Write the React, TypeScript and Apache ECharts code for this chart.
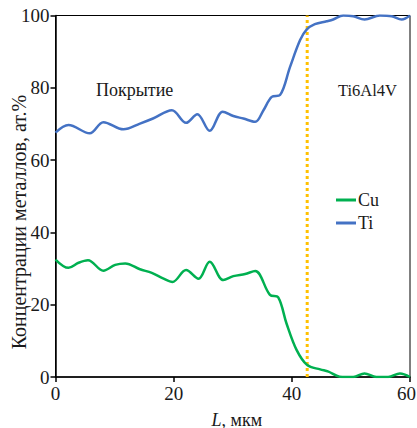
import React, { useEffect, useRef } from "react";
import * as echarts from "echarts";

const cuX = [0, 2.2, 3.9, 5.5, 8.1, 10.1, 11.8, 14.3, 16.3, 18.2, 19.8, 22.1, 24.2, 26.1, 28.4, 30.1, 32.1, 33.8, 36.3, 37.7, 39.1, 40.8, 42.6, 44.8, 46.2, 48.1, 50.4, 52.3, 54.3, 56.3, 58.3, 60];
const cuY = [32.5, 30.2, 31.6, 32.3, 29.4, 31.0, 31.4, 29.8, 28.8, 27.3, 26.3, 29.6, 27.2, 31.9, 26.8, 27.9, 28.5, 29.3, 22.7, 22.0, 14.8, 7.5, 3.3, 2.1, 1.5, 0.1, 0, 1.0, 0, 0, 1.0, 0];

const tiX = [0, 2.2, 5.8, 8.1, 11.5, 14.3, 16.5, 19.7, 22.1, 24.0, 26.1, 28.3, 30.1, 31.8, 33.8, 35.2, 36.6, 38.0, 39.7, 41.4, 42.5, 43.9, 45.9, 47.0, 48.7, 50.4, 52.3, 54.9, 56.9, 58.6, 60];
const tiY = [67.6, 69.7, 67.4, 70.5, 68.5, 70.1, 71.5, 73.8, 70.3, 72.7, 68.1, 73.4, 72.2, 71.5, 70.6, 73.8, 77.5, 78.0, 85.8, 93.2, 96.1, 97.6, 98.4, 98.9, 100, 99.8, 98.9, 100, 99.8, 98.9, 100];

const boundaryX = 42.6;
const xTicks = [0, 20, 40, 60];
const yTicks = [0, 20, 40, 60, 80, 100];

const FONT = "Liberation Serif";
const TXT = "#1a1a1a";

export default function App() {
  const ref = useRef<HTMLDivElement>(null);
  useEffect(() => {
    const chart = echarts.init(ref.current!, null, { renderer: "svg" });
    const zip = (xs: number[], ys: number[]) => xs.map((x, i) => [x, ys[i]]);
    const xMax = xTicks[xTicks.length - 1];
    chart.setOption({
      animation: false,
      backgroundColor: "#fff",
      grid: {
        left: 55.5,
        right: 7,
        top: 15.5,
        bottom: 51,
        outerBoundsMode: "none",
        containLabel: false,
        show: true,
        borderColor: "#000",
        borderWidth: 1,
      },
      legend: {
        show: true,
        orient: "vertical",
        left: 331,
        top: 186,
        itemWidth: 20,
        itemHeight: 3,
        itemGap: 5,
        icon: "rect",
        textStyle: { fontFamily: FONT, fontSize: 18, color: TXT, padding: [0, 0, 0, -3] },
        data: ["Cu", "Ti"],
      },
      xAxis: {
        type: "value",
        min: xTicks[0],
        max: xMax,
        interval: 20,
        axisLine: { show: true, lineStyle: { color: "#000", width: 1.5 } },
        axisTick: { show: true, inside: false, length: 5, lineStyle: { color: "#000", width: 1.5 } },
        axisLabel: {
          fontFamily: FONT,
          fontSize: 19,
          color: TXT,
          margin: 7,
          formatter: (v: number) => (v === xMax ? "{r|" + v + "}" : String(v)),
          rich: { r: { fontFamily: FONT, fontSize: 19, color: TXT, padding: [0, 7, 0, 0] } },
        },
        splitLine: { show: false },
        name: "{i|L}, мкм",
        nameLocation: "middle",
        nameGap: 34,
        nameTextStyle: {
          fontFamily: FONT,
          fontSize: 18,
          lineHeight: 17,
          color: TXT,
          padding: [0, 0, 0, 8],
          rich: { i: { fontFamily: FONT, fontSize: 18, lineHeight: 17, fontStyle: "italic", color: TXT } },
        },
      },
      yAxis: {
        type: "value",
        min: yTicks[0],
        max: yTicks[yTicks.length - 1],
        interval: 20,
        axisLine: { show: true, lineStyle: { color: "#000", width: 1.5 } },
        axisTick: { show: true, inside: false, length: 5, lineStyle: { color: "#000", width: 1.5 } },
        axisLabel: { fontFamily: FONT, fontSize: 19, color: TXT, margin: 6 },
        splitLine: { show: false },
      },
      graphic: [
        {
          type: "text",
          x: 19,
          y: 222,
          rotation: Math.PI / 2,
          style: {
            text: "Концентрации металлов, ат.%",
            fontFamily: FONT,
            fontSize: 20,
            fill: TXT,
            align: "center",
            verticalAlign: "middle",
          },
        },
        {
          type: "text",
          x: 96,
          y: 90,
          style: { text: "Покрытие", fontFamily: FONT, fontSize: 18, fill: TXT, verticalAlign: "middle" },
        },
        {
          type: "text",
          x: 338,
          y: 90,
          style: { text: "Ti6Al4V", fontFamily: FONT, fontSize: 16.5, fill: TXT, verticalAlign: "middle" },
        },
      ],
      series: [
        {
          name: "boundary",
          type: "line",
          data: [[boundaryX, 0], [boundaryX, 100]],
          symbol: "none",
          lineStyle: { color: "#FFC000", width: 3, type: [3, 3] },
          silent: true,
          z: 1,
        },
        {
          name: "Cu",
          type: "line",
          data: zip(cuX, cuY),
          smooth: 0.35,
          symbol: "none",
          color: "#00B050",
          lineStyle: { color: "#00B050", width: 2.5 },
          z: 3,
        },
        {
          name: "Ti",
          type: "line",
          data: zip(tiX, tiY),
          smooth: 0.35,
          symbol: "none",
          color: "#4472C4",
          lineStyle: { color: "#4472C4", width: 2.5 },
          z: 3,
        },
      ],
    });
    return () => chart.dispose();
  }, []);
  return <div ref={ref} style={{ width: 417, height: 428, position: "absolute", left: 0, top: 0 }} />;
}
